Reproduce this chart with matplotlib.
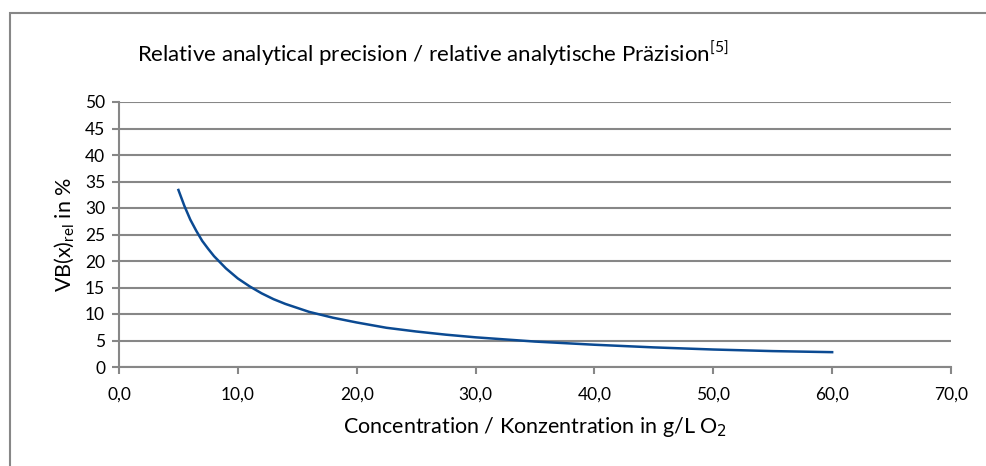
import matplotlib.pyplot as plt
from matplotlib.patches import Rectangle
from matplotlib.ticker import FuncFormatter

# Werte
konzentration = [5, 5.5, 6, 6.5, 7, 7.5, 8, 9, 10, 11, 12, 13, 14, 16, 18, 20,
                 22.5, 25, 27.5, 30, 35, 40, 45, 50, 55, 60]
vb_rel = [33.4, 30.4, 27.8, 25.7, 23.8, 22.3, 20.9, 18.6, 16.7, 15.2, 13.9, 12.8,
          11.9, 10.4, 9.3, 8.4, 7.4, 6.7, 6.1, 5.6, 4.8, 4.2, 3.7, 3.3, 3.0, 2.8]
y_ticks = list(range(0, 51, 5))
x_ticks = list(range(0, 71, 10))

plt.rcParams['font.family'] = ['Lato', 'DejaVu Sans']
grau = '#878787'

fig = plt.figure(figsize=(9.86, 4.66), dpi=100)
# Rahmen um das Diagramm (rechts und unten ausserhalb des Bildes)
fig.patches.append(Rectangle((10 / 986, -0.1), 1.1, 1.1 - 13 / 466,
                             transform=fig.transFigure, fill=False,
                             edgecolor=grau, linewidth=1.5))

ax = fig.add_axes([119 / 986, 1 - 367 / 466, 832 / 986, 265 / 466])
ax.plot(konzentration, vb_rel, color='#0b4a92', linewidth=1.8)

ax.set_xlim(0, 70)
ax.set_ylim(0, 50)
ax.set_xticks(x_ticks)
ax.set_yticks(y_ticks)
ax.xaxis.set_major_formatter(FuncFormatter(lambda v, p: f'{v:.1f}'.replace('.', ',')))
ax.grid(axis='y', color=grau, linewidth=1.5)
ax.set_axisbelow(True)
for s in ['top', 'right']:
    ax.spines[s].set_visible(False)
for s in ['left', 'bottom']:
    ax.spines[s].set_color(grau)
    ax.spines[s].set_linewidth(1.5)
ax.tick_params(axis='both', colors=grau, labelcolor='black', labelsize=12.5,
               length=5, width=1.5)
ax.tick_params(axis='x', pad=9)
ax.tick_params(axis='y', pad=5)

ax.set_xlabel('Concentration / Konzentration in g/L O$_2$', fontsize=15.5, labelpad=9)
ax.set_ylabel('VB(x)$_{\\mathregular{rel}}$ in %', fontsize=15.5, labelpad=6)

fig.text(433 / 986, 1 - 62 / 466,
         'Relative analytical precision / relative analytische Präzision$^{\\mathregular{[5]}}$',
         ha='center', va='baseline', fontsize=16)

fig.savefig('out.png', dpi=100)
